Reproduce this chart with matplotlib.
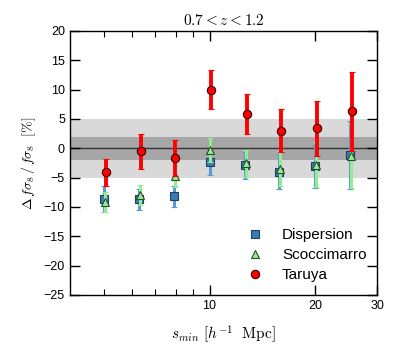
"""Recreate the fsigma8 bias vs s_min comparison panel."""

import matplotlib
matplotlib.use('Agg')
import matplotlib.pyplot as plt
from matplotlib.lines import Line2D
from matplotlib.ticker import FixedLocator, FixedFormatter, NullFormatter

plt.rcParams['font.family'] = ['Liberation Sans', 'DejaVu Sans']
plt.rcParams['mathtext.fontset'] = 'cm'

# s_min values [h^-1 Mpc]
s_min = [5.0, 6.3, 7.9, 10.0, 12.6, 15.8, 20.0, 25.1]

# Delta f sigma8 / f sigma8 [%]
disp_val = [-8.6, -8.7, -8.2, -2.4, -2.9, -4.0, -3.1, -1.2]
disp_err = [2.2, 1.8, 1.8, 2.1, 2.3, 3.0, 3.7, 5.8]

scoc_val = [-9.1, -8.0, -4.8, -0.3, -2.6, -3.5, -2.8, -1.3]
scoc_err = [1.7, 1.7, 1.8, 2.0, 2.3, 3.0, 3.8, 5.5]

tar_val = [-4.1, -0.5, -1.7, 10.0, 5.8, 3.0, 3.4, 6.3]
tar_err = [2.3, 3.0, 3.1, 3.3, 3.4, 3.7, 4.7, 6.7]


def main():
    fig = plt.figure(figsize=(3.99, 3.6), dpi=100)
    ax = fig.add_axes([0.175, 0.181, 0.770, 0.733])

    ax.axhspan(-5, 5, color='#d9d9d9', zorder=0, lw=0)
    ax.axhspan(-2, 2, color='#a6a6a6', zorder=0.5, lw=0)
    ax.axhline(0, color='#333333', lw=1.0, zorder=1)

    ax.errorbar(s_min, disp_val, yerr=disp_err, fmt='s', ms=6,
                mfc='#3a7ab5', mec='#1f3f5f', mew=0.8,
                ecolor='#5b9bd0', elinewidth=2.2, capsize=2.2, capthick=2.2,
                zorder=3)
    ax.errorbar([s * 1.006 for s in s_min], scoc_val, yerr=scoc_err, fmt='^',
                ms=6, mfc='#90ee90', mec='#2a4a2a', mew=0.8,
                ecolor='#90ee90', elinewidth=2.2, capsize=2.2, capthick=2.2,
                zorder=4)
    ax.errorbar([s * 1.012 for s in s_min], tar_val, yerr=tar_err, fmt='o',
                ms=6, mfc='#ff0000', mec='#330000', mew=0.8,
                ecolor='#ff0000', elinewidth=2.8, capsize=2.4, capthick=2.8,
                zorder=5)

    ax.set_xscale('log')
    ax.set_xlim(4.0, 30.0)
    ax.set_ylim(-25, 20)
    ax.xaxis.set_major_locator(FixedLocator([10, 20, 30]))
    ax.xaxis.set_major_formatter(FixedFormatter(['10', '20', '30']))
    ax.xaxis.set_minor_locator(FixedLocator([5, 6, 7, 8, 9]))
    ax.xaxis.set_minor_formatter(NullFormatter())
    ax.set_yticks(range(-25, 21, 5))

    ax.tick_params(which='both', direction='in', top=True, right=True,
                   labelsize=9)
    ax.tick_params(which='major', length=7, width=1)
    ax.tick_params(which='minor', length=4, width=0.8)
    for sp in ax.spines.values():
        sp.set_linewidth(1.0)

    ax.set_xlabel(r'$s_{min}\ [h^{-1}\ \ \mathrm{Mpc}]$', fontsize=11, labelpad=8)
    ax.set_ylabel(r'$\Delta\, f\sigma_8\, /\, f\sigma_8\ \ [\%]$', fontsize=10)
    ax.set_title(r'$0.7 < z < 1.2$', fontsize=11, pad=4)

    handles = [
        Line2D([], [], ls='none', marker='s', ms=6, mfc='#3a7ab5', mec='#1f3f5f', mew=0.8),
        Line2D([], [], ls='none', marker='^', ms=6, mfc='#90ee90', mec='#2a4a2a', mew=0.8),
        Line2D([], [], ls='none', marker='o', ms=6, mfc='#ff0000', mec='#330000', mew=0.8),
    ]
    ax.legend(handles, ['Dispersion', 'Scoccimarro', 'Taruya'], loc='lower right',
              frameon=False, fontsize=11, handletextpad=1.0, labelspacing=0.4,
              handlelength=1.5, bbox_to_anchor=(1.01, -0.005))

    fig.savefig('out.png', dpi=100)
    plt.close(fig)


if __name__ == '__main__':
    main()
